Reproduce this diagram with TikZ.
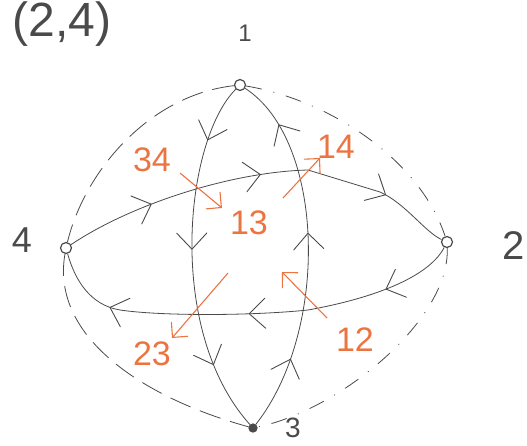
\documentclass[tikz,border=0pt]{standalone}
\usepackage{fontspec}
\setmainfont{Liberation Sans}
\usetikzlibrary{arrows.meta,decorations.markings}
\definecolor{ink}{HTML}{4A4A4A}
\definecolor{pen}{HTML}{EC7440}
\tikzset{
  vert/.style={circle,draw=ink,line width=1.2pt,minimum size=11pt,inner sep=0pt},
  edge/.style={draw=ink,line width=0.8pt},
  hhead/.style={draw=ink,line width=0.9pt,line cap=round,line join=round},
  tri/.style n args={3}{postaction={decorate},decoration={markings,
     mark=at position #1 with {\draw[hhead] (-15pt,-15pt) -- (1pt,0pt) -- (-15pt,15pt);},
     mark=at position #2 with {\draw[hhead] (-15pt,-15pt) -- (1pt,0pt) -- (-15pt,15pt);},
     mark=at position #3 with {\draw[hhead] (-15pt,-15pt) -- (1pt,0pt) -- (-15pt,15pt);}}},
  outer/.style={draw=ink,line width=0.8pt,dash pattern=on 22pt off 10pt},
  outerdot/.style={draw=ink,line width=0.8pt,dash pattern=on 16pt off 12pt on 1pt off 12pt},
  orng/.style={draw=pen,line width=1.1pt,-{Straight Barb[length=11pt,width=22pt,line width=1.1pt]}},
  olab/.style={text=pen,font=\fontsize{34}{34}\selectfont},
  blab/.style={text=ink,font=\fontsize{40}{40}\selectfont}
}
\begin{document}
\begin{tikzpicture}[x=1pt,y=-1pt]
\useasboundingbox (0,0) rectangle (527,446);
% vertices
\node[vert] (v1) at (240,85) {};
\node[vert] (v2) at (447,242) {};
\node[vert,fill=ink,minimum size=8pt] (v3) at (253,428) {};
\node[vert] (v4) at (66,248) {};
% labels
\node[blab,font=\fontsize{48}{48}\selectfont] (title) at (62,24) {(2,4)};
\node[blab,font=\fontsize{24}{24}\selectfont] (n1) at (245,33) {1};
\node[blab] (n2) at (514,246) {2};
\node[blab,font=\fontsize{28}{28}\selectfont] (n3) at (293,428) {3};
\node[blab,font=\fontsize{36}{36}\selectfont] (n4) at (22,240) {4};
% inner edges
\draw[edge,tri={0.16}{0.47}{0.8}] (v1) .. controls (185,140) and (165,330) .. (v3);
\draw[edge,tri={0.2}{0.55}{0.86}] (v3) .. controls (330,330) and (325,140) .. (v1);
\coordinate (k1) at (308,170);
\coordinate (k2) at (380,192);
\draw[edge,tri={0.22}{0.5}{0.82}] (v4) .. controls (130,205) and (230,172) .. (k1) -- (k2) .. controls (405,203) and (425,232) .. (v2);
\coordinate (k3) at (308,310);
\coordinate (k4) at (120,310);
\draw[edge,tri={0.17}{0.5}{0.83}] (v2) .. controls (430,275) and (380,297) .. (k3) .. controls (250,316) and (160,316) .. (k4) .. controls (90,305) and (75,280) .. (v4);
% outer edges
\draw[outer] (v1) .. controls (150,95) and (85,170) .. (v4);
\draw[outerdot] (v1) .. controls (330,100) and (420,160) .. (v2);
\draw[outer] (v4) .. controls (50,340) and (150,400) .. (v3);
\draw[outerdot] (v2) .. controls (450,320) and (340,410) .. (v3);
% orange annotations
\coordinate (a1) at (180,173); \coordinate (b1) at (222,208);
\coordinate (a2) at (283,198); \coordinate (b2) at (320,158);
\coordinate (a3) at (228,273); \coordinate (b3) at (172,338);
\coordinate (a4) at (327,318); \coordinate (b4) at (282,272);
\draw[orng] (a1) -- (b1);
\draw[orng] (a2) -- (b2);
\draw[orng] (a3) -- (b3);
\draw[orng] (a4) -- (b4);
\node[olab] (l34) at (152,160) {34};
\node[olab] (l13) at (249,223) {13};
\node[olab] (l14) at (336,147) {14};
\node[olab] (l23) at (152,354) {23};
\node[olab] (l12) at (355,340) {12};
\end{tikzpicture}
\end{document}
